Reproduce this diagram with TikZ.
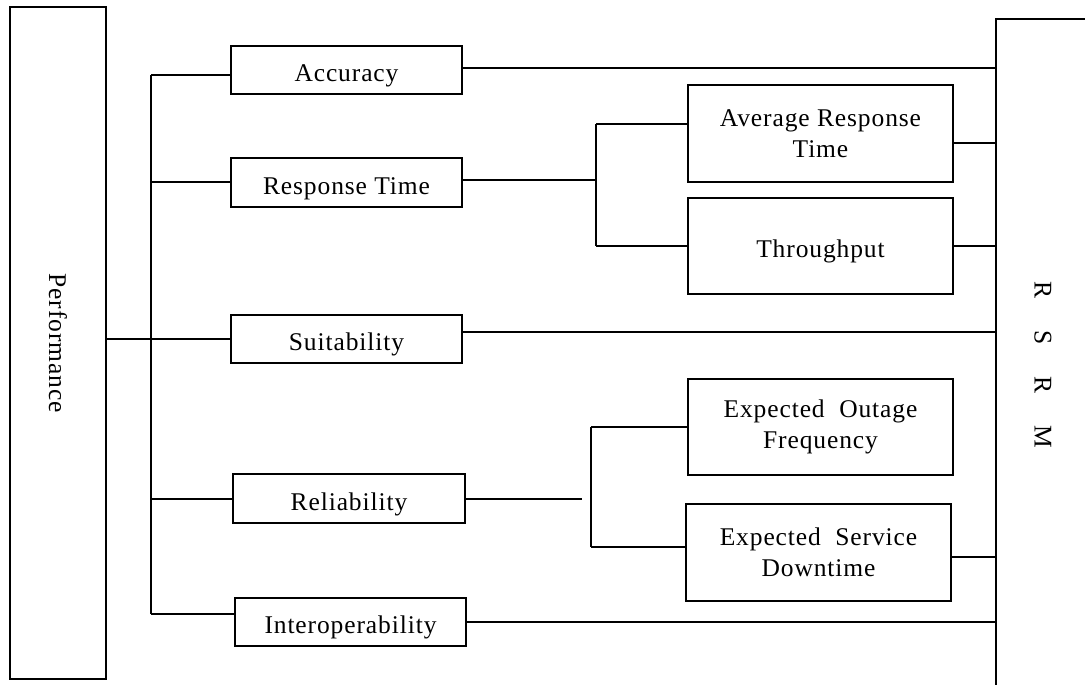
\documentclass[tikz,border=0pt]{standalone}
\usepackage{fontspec}
\setmainfont{Liberation Serif}[LetterSpace=3.5]
\usepackage{graphicx}
\begin{document}
\begin{tikzpicture}[x=1pt,y=-1pt,
  box/.style={draw, line width=1.9pt, inner sep=0pt, font=\fontsize{25.5}{31}\selectfont},
  one/.style={box, text height=24pt, text depth=1pt},
  two/.style={box, align=center},
  conn/.style={line width=1.6pt}]
\useasboundingbox (0,0) rectangle (1085,685);
\clip (0,0) rectangle (1085,685);
% boxes
\node[box, minimum width=96pt, minimum height=672pt] (perf) at (58,343) {\rotatebox{-90}{Performance}};
\node[one, minimum width=231pt, minimum height=48pt] (acc) at (346.5,70) {Accuracy};
\node[one, minimum width=231pt, minimum height=49pt] (rt) at (346.5,182.5) {Response Time};
\node[one, minimum width=231pt, minimum height=48pt] (suit) at (346.5,339) {Suitability};
\node[one, minimum width=232pt, minimum height=49pt] (rel) at (349,498.5) {Reliability};
\node[one, minimum width=231pt, minimum height=48pt] (intop) at (350.5,622) {Interoperability};
\node[two, minimum width=265pt, minimum height=97pt] (avg) at (820.5,133.5) {Average Response\\Time};
\node[one, minimum width=265pt, minimum height=96pt] (tp) at (820.5,246) {Throughput};
\node[two, minimum width=265pt, minimum height=96pt] (eof) at (820.5,427) {Expected\ \ Outage\\Frequency};
\node[two, minimum width=265pt, minimum height=97pt] (esd) at (818.5,552.5) {Expected\ \ Service\\Downtime};
\node[box, minimum width=200pt, minimum height=700pt] (rsrm) at (1096,369) {};
\node[font=\fontsize{25.5}{31}\selectfont, inner sep=0pt] (rsrmlabel) at (1043,365)
  {\rotatebox{-90}{R\hskip 32pt S\hskip 32pt R\hskip 32pt M}};
% helper coordinates
\coordinate (bus) at (151,0);
\coordinate (j1) at (596,0);
\coordinate (r1) at (582,0);
\coordinate (j2) at (591,0);
\coordinate (accL) at ([yshift=-5pt]acc.west);
\coordinate (rtL) at ([yshift=0.5pt]rt.west);
\coordinate (rtR) at ([yshift=2.5pt]rt.east);
\coordinate (relL) at ([yshift=-0.5pt]rel.west);
\coordinate (relR) at ([yshift=-0.5pt]rel.east);
\coordinate (intL) at ([yshift=8pt]intop.west);
\coordinate (avgL) at ([yshift=9.5pt]avg.west);
\coordinate (esdL) at ([yshift=5.5pt]esd.west);
\coordinate (accR) at ([yshift=2pt]acc.east);
\coordinate (avgR) at ([yshift=-9.5pt]avg.east);
\coordinate (suitR) at ([yshift=7pt]suit.east);
\coordinate (esdR) at ([yshift=-4.5pt]esd.east);
% left bus
\draw[conn] (bus |- accL) -- (bus |- intL);
\draw[conn] (bus |- accL) -- (accL);
\draw[conn] (bus |- rtL) -- (rtL);
\draw[conn] (perf.east |- suit.west) -- (suit.west);
\draw[conn] (bus |- relL) -- (relL);
\draw[conn] (bus |- intL) -- (intL);
% response time branch
\draw[conn] (rtR) -- (j1 |- rtR);
\draw[conn] (j1 |- avgL) -- (j1 |- tp.west);
\draw[conn] (j1 |- avgL) -- (avgL);
\draw[conn] (j1 |- tp.west) -- (tp.west);
% reliability branch
\draw[conn] (relR) -- (r1 |- relR);
\draw[conn] (j2 |- eof.west) -- (j2 |- esdL);
\draw[conn] (j2 |- eof.west) -- (eof.west);
\draw[conn] (j2 |- esdL) -- (esdL);
% right connections to RSRM
\draw[conn] (accR) -- (rsrm.west |- accR);
\draw[conn] (avgR) -- (rsrm.west |- avgR);
\draw[conn] (tp.east) -- (rsrm.west |- tp.east);
\draw[conn] (suitR) -- (rsrm.west |- suitR);
\draw[conn] (esdR) -- (rsrm.west |- esdR);
\draw[conn] (intop.east) -- (rsrm.west |- intop.east);
\end{tikzpicture}
\end{document}
